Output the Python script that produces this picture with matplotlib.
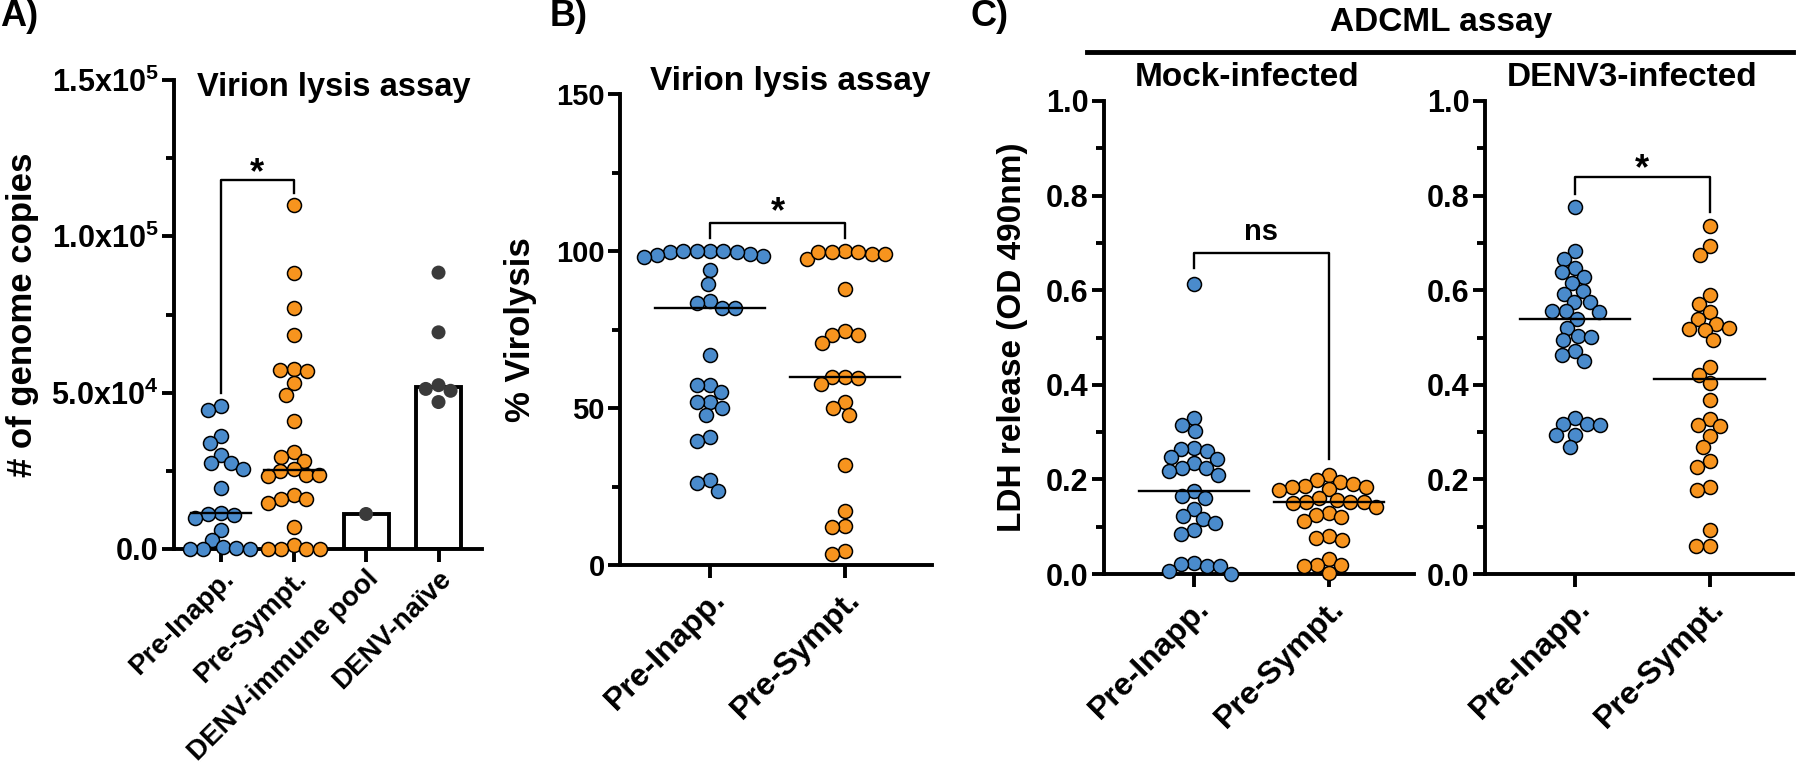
import numpy as np
import matplotlib
matplotlib.use("Agg")
import matplotlib.pyplot as plt
from matplotlib.lines import Line2D
from matplotlib.ticker import FixedLocator
from matplotlib.transforms import ScaledTranslation

plt.rcParams['font.family'] = ['Liberation Sans', 'DejaVu Sans']
plt.rcParams['font.weight'] = 'bold'
plt.rcParams['axes.labelweight'] = 'bold'
plt.rcParams['mathtext.fontset'] = 'custom'
plt.rcParams['mathtext.rm'] = 'Liberation Sans:bold'
plt.rcParams['mathtext.it'] = 'Liberation Sans:bold'
plt.rcParams['mathtext.bf'] = 'Liberation Sans:bold'

BLUE = '#4a8bcc'
ORANGE = '#f7941e'
GREY = '#3a3a3a'

# ---------------- data ----------------
a_categories = ["Pre-Inapp.", "Pre-Sympt.", "DENV-immune pool", "DENV-naïve"]
a_pre_inapp = [45.8, 44.6, 36.2, 34.0, 30.2, 27.6, 27.4, 25.6, 19.6, 11.6, 11.2,
               11.0, 10.0, 6.2, 3.0, 0.5, 0.3, 0.0, 0.0, 0.0]
a_pre_sympt = [110, 88.4, 77.2, 68.5, 57.5, 57.3, 57.0, 53.0, 49.4, 40.8, 31.0,
               29.5, 28.3, 25.6, 25.0, 23.8, 23.8, 23.4, 17.3, 15.9, 15.9, 14.6,
               7.0, 1.2, 0.0, 0.0, 0.0, 0.0]
a_pool = [11.2]
a_naive = [88.4, 69.3, 52.4, 51.2, 50.6, 47.0]
a_scale = 1e3  # values above are in thousands of genome copies
a_yticks = [0, 5e4, 1e5, 1.5e5]
a_yticklabels = ["0.0", r"5.0x10$^{4}$", r"1.0x10$^{5}$", r"1.5x10$^{5}$"]

b_categories = ["Pre-Inapp.", "Pre-Sympt."]
b_pre_inapp = [100, 100, 99.6, 98.8, 98.5, 99.2, 98.0, 99.8, 100, 100,
               93.8, 89.6, 84.0, 83.5, 82.0, 81.8, 67.0, 57.2, 57.2, 55.0,
               51.8, 51.8, 50.0, 47.8, 40.9, 39.5, 27.0, 26.0, 23.7]
b_pre_sympt = [100, 97.5, 99.2, 99.0, 99.6, 99.8, 99.8, 87.8, 74.6, 73.4,
               73.4, 70.6, 60.0, 60.0, 59.6, 57.6, 51.8, 50.0, 47.8, 31.7,
               17.3, 12.4, 12.2, 4.3, 3.5]
b_yticks = [0, 50, 100, 150]

c_categories = ["Pre-Inapp.", "Pre-Sympt."]
c_mock_pre_inapp = [0.613, 0.330, 0.316, 0.302, 0.267, 0.265, 0.261, 0.247,
                    0.243, 0.235, 0.225, 0.225, 0.218, 0.210, 0.176, 0.165,
                    0.161, 0.137, 0.122, 0.116, 0.107, 0.092, 0.084, 0.023,
                    0.021, 0.017, 0.016, 0.007, 0.000]
c_mock_pre_sympt = [0.210, 0.198, 0.195, 0.190, 0.186, 0.184, 0.184, 0.179,
                    0.178, 0.161, 0.157, 0.153, 0.153, 0.153, 0.150, 0.141,
                    0.130, 0.125, 0.120, 0.112, 0.081, 0.076, 0.072, 0.031,
                    0.019, 0.019, 0.016, 0.002]
c_denv_pre_inapp = [0.776, 0.682, 0.667, 0.647, 0.638, 0.627, 0.615, 0.598,
                    0.593, 0.576, 0.574, 0.555, 0.555, 0.553, 0.540, 0.521,
                    0.504, 0.502, 0.494, 0.471, 0.464, 0.451, 0.329, 0.318,
                    0.317, 0.314, 0.294, 0.294, 0.268]
c_denv_pre_sympt = [0.735, 0.694, 0.675, 0.589, 0.571, 0.553, 0.540, 0.529,
                    0.521, 0.518, 0.516, 0.494, 0.437, 0.420, 0.404, 0.367,
                    0.328, 0.314, 0.312, 0.292, 0.268, 0.238, 0.227, 0.184,
                    0.178, 0.094, 0.059, 0.059]
c_yticks = [0.0, 0.2, 0.4, 0.6, 0.8, 1.0]

# ---------------- figure ----------------
W, H = 1800, 778
fig = plt.figure(figsize=(W / 100, H / 100), dpi=100)


def axpos(l, r, t, b):
    return [l / W, 1 - b / H, (r - l) / W, (b - t) / H]


DIAM = 14.0  # marker diameter, px
S = (DIAM * 72 / 100) ** 2
SPINE = 2.8


def swarm_x(ax, xc, values, diam=DIAM * 0.95):
    vals = np.asarray(values, float)
    pts = ax.transData.transform(np.column_stack([np.full(len(vals), xc), vals]))
    ys = pts[:, 1]
    x0 = pts[0, 0]
    order = np.argsort(-ys, kind='stable')
    placed = []
    offs = np.zeros(len(vals))
    for i in order:
        y = ys[i]
        cands = [0.0]
        for px, py in placed:
            dy = abs(py - y)
            if dy < diam:
                dx = np.sqrt(diam ** 2 - dy ** 2)
                cands += [px + dx, px - dx]
        cands = sorted(cands, key=lambda c: (abs(c), c))
        chosen = cands[-1]
        for c in cands:
            if all((c - px) ** 2 + (y - py) ** 2 >= diam ** 2 - 1e-6 for px, py in placed):
                chosen = c
                break
        placed.append((chosen, y))
        offs[i] = chosen
    inv = ax.transData.inverted()
    return inv.transform(np.column_stack([x0 + offs, ys]))[:, 0]


def style_axes(ax, yticks, yticklabels, minor, cats, ylabel, tfs, xfs, yfs, lpad, xpad):
    for s in ['top', 'right']:
        ax.spines[s].set_visible(False)
    for s in ['left', 'bottom']:
        ax.spines[s].set_linewidth(SPINE)
    ax.set_yticks(yticks)
    ax.set_yticklabels(yticklabels)
    ax.yaxis.set_minor_locator(FixedLocator(minor))
    ax.set_xticks(range(len(cats)))
    ax.set_xticklabels(cats, rotation=45, ha='right', rotation_mode='anchor',
                       fontsize=xfs)
    shift = ScaledTranslation(7 / 100, 0, fig.dpi_scale_trans)
    for lbl in ax.get_xticklabels():
        lbl.set_transform(lbl.get_transform() + shift)
    ax.tick_params(axis='both', which='major', width=SPINE, length=9, pad=2)
    ax.tick_params(axis='y', which='major', labelsize=tfs)
    ax.tick_params(axis='y', which='minor', width=SPINE, length=6)
    ax.tick_params(axis='x', which='major', pad=xpad)
    ax.set_ylabel(ylabel, fontsize=yfs, fontweight='bold', labelpad=lpad)


def dots(ax, xc, vals, color, edge=True):
    xs = swarm_x(ax, xc, vals)
    ax.scatter(xs, vals, s=S, c=color, edgecolors='black' if edge else 'none',
               linewidths=1.1 if edge else 0, zorder=3, clip_on=False)


def median_line(ax, xc, vals, half=0.41):
    m = np.median(vals)
    ax.plot([xc - half, xc + half], [m, m], color='black', lw=1.7, zorder=4)


def bracket(ax, x1, x2, y1, ytop, y2, label, fs=26, dy=0.0):
    ax.plot([x1, x1, x2, x2], [y1, ytop, ytop, y2], color='black', lw=1.7, zorder=2)
    ax.text((x1 + x2) / 2, ytop + dy, label, ha='center', va='bottom',
            fontsize=fs, fontweight='bold')


# ---- Panel A ----
axA = fig.add_axes(axpos(174, 482, 80, 549))
axA.set_xlim(-0.65, 3.6)
axA.set_ylim(0, 1.5e5)
style_axes(axA, a_yticks, a_yticklabels, [2.5e4, 7.5e4, 1.25e5], a_categories,
           "# of genome copies", 22, 20, 25, 9, 3)
a_groups = [a_pre_inapp, a_pre_sympt, a_pool, a_naive]
a_vals = [np.array(g) * a_scale for g in a_groups]
axA.bar([2, 3], [np.median(a_vals[2]), np.median(a_vals[3])], width=0.62,
        facecolor='white', edgecolor='black', linewidth=SPINE, zorder=1)
dots(axA, 0, a_vals[0], BLUE)
dots(axA, 1, a_vals[1], ORANGE)
dots(axA, 2, a_vals[2], GREY, edge=False)
dots(axA, 3, a_vals[3], GREY, edge=False)
median_line(axA, 0, a_vals[0])
median_line(axA, 1, a_vals[1])
bracket(axA, 0, 1, 5.0e4, 1.18e5, 1.14e5, "*", dy=-3.5e3)
axA.text(0.075, 0.984, "Virion lysis assay", transform=axA.transAxes, ha='left',
         va='center', fontsize=23.5, fontweight='bold')

# ---- Panel B ----
axB = fig.add_axes(axpos(620, 932, 94, 565))
axB.set_xlim(-0.667, 1.644)
axB.set_ylim(0, 150)
style_axes(axB, b_yticks, [str(t) for t in b_yticks], [25, 75, 125], b_categories,
           "% Virolysis", 21, 23, 25, 14, 5)
dots(axB, 0, b_pre_inapp, BLUE)
dots(axB, 1, b_pre_sympt, ORANGE)
median_line(axB, 0, b_pre_inapp)
median_line(axB, 1, b_pre_sympt)
bracket(axB, 0, 1, 104, 109, 104, "*", dy=-2.5)
axB.text(0.096, 1.026, "Virion lysis assay", transform=axB.transAxes, ha='left',
         va='center', fontsize=24, fontweight='bold')

# ---- Panel C ----
c_labels = ["%.1f" % t for t in c_yticks]
c_minor = [0.1, 0.3, 0.5, 0.7, 0.9]
axC1 = fig.add_axes(axpos(1104, 1414, 101, 574))
axC1.set_xlim(-0.667, 1.63)
axC1.set_ylim(0, 1.0)
style_axes(axC1, c_yticks, c_labels, c_minor, c_categories, "LDH release (OD 490nm)",
           22, 23, 24, 13, 5)
dots(axC1, 0, c_mock_pre_inapp, BLUE)
dots(axC1, 1, c_mock_pre_sympt, ORANGE)
median_line(axC1, 0, c_mock_pre_inapp)
median_line(axC1, 1, c_mock_pre_sympt)
bracket(axC1, 0, 1, 0.646, 0.678, 0.243, "ns", fs=21, dy=0.015)
axC1.text(0.1, 1.049, "Mock-infected", transform=axC1.transAxes, ha='left',
          va='center', fontsize=24, fontweight='bold')

axC2 = fig.add_axes(axpos(1485, 1793, 101, 574))
axC2.set_xlim(-0.667, 1.62)
axC2.set_ylim(0, 1.0)
style_axes(axC2, c_yticks, c_labels, c_minor, c_categories, "", 22, 23, 24, 13, 5)
dots(axC2, 0, c_denv_pre_inapp, BLUE)
dots(axC2, 1, c_denv_pre_sympt, ORANGE)
median_line(axC2, 0, c_denv_pre_inapp)
median_line(axC2, 1, c_denv_pre_sympt)
bracket(axC2, 0, 1, 0.804, 0.839, 0.765, "*", dy=-0.022)
axC2.text(0.071, 1.049, "DENV3-infected", transform=axC2.transAxes, ha='left',
          va='center', fontsize=24, fontweight='bold')

# header for ADCML
fig.add_artist(Line2D([1087 / W, 1793 / W], [1 - 52 / H, 1 - 52 / H], color='black',
                      lw=3.5, transform=fig.transFigure))
fig.text(1441 / W, 1 - 22 / H, "ADCML assay", ha='center', va='center',
         fontsize=24, fontweight='bold')

# panel letters
for lx, lab in [(0, "A)"), (550, "B)"), (970, "C)")]:
    fig.text(lx / W, 1 - 17 / H, lab, ha='left', va='center', fontsize=26,
             fontweight='bold')

fig.savefig("out.png", dpi=100)
